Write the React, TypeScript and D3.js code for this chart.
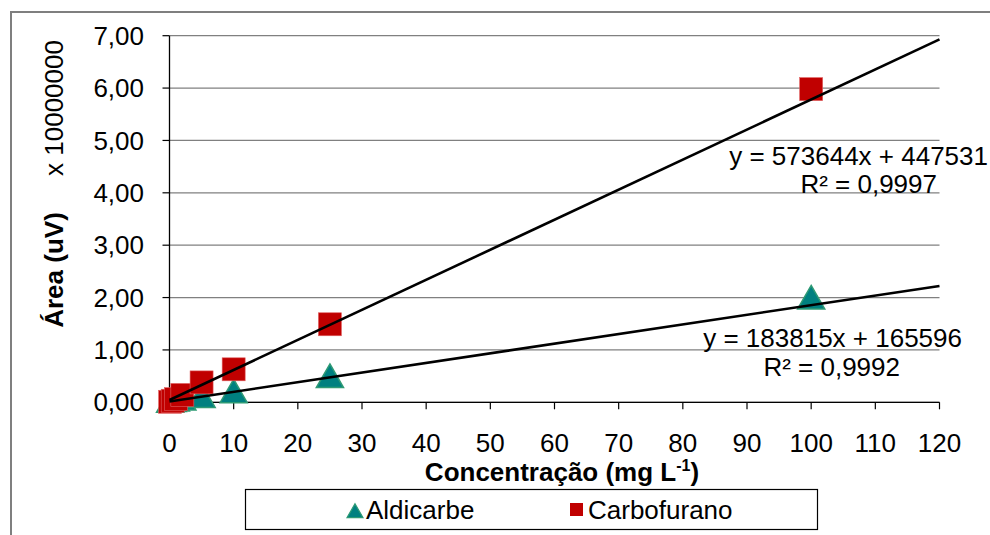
import React from "react";
import * as d3 from "d3";

// Calibration data: concentration (mg L-1) vs peak area (x 10^7 uV)
const concentrations = [0.1, 0.5, 1, 2, 5, 10, 25, 100];
const aldicarbe = [0.0, 0.01, 0.02, 0.04, 0.09, 0.18, 0.47, 1.97];
const carbofurano = [0.01, 0.03, 0.06, 0.14, 0.38, 0.63, 1.49, 5.98];

// Linear fits (area in uV) and their labels
const fitSlopes = [183815, 573644];
const fitIntercepts = [165596, 447531];
const fitEquations = ["y = 183815x + 165596", "y = 573644x + 447531"];
const fitR2 = ["R² = 0,9992", "R² = 0,9997"];

const xTicks = [0, 10, 20, 30, 40, 50, 60, 70, 80, 90, 100, 110, 120];
const yTicks = [0, 1, 2, 3, 4, 5, 6, 7];
const displayUnit = 10000000;

const W = 990;
const H = 535;
const FONT = "'Liberation Sans', Arial, sans-serif";
const FS = 26;

export default function App() {
  const x = d3.scaleLinear().domain([0, 120]).range([169.5, 939.5]);
  const y = d3.scaleLinear().domain([0, 7]).range([402.3, 35.7]);
  const fmt = (v: number) => d3.format(".2f")(v).replace(".", ",");

  const fitLine = (i: number) => {
    const pts: [number, number][] = [0, 120].map((c) => [
      x(c),
      y((fitSlopes[i] * c + fitIntercepts[i]) / displayUnit),
    ]);
    return d3.line()(pts) as string;
  };

  const tri = d3.symbol().type(d3.symbolTriangle).size(320)() as string;
  const sq = 23;

  return (
    <svg
      width={W}
      height={H}
      style={{ position: "absolute", left: 0, top: 0, background: "#fff" }}
      fontFamily={FONT}
    >
      {/* chart frame */}
      <rect x={11} y={12} width={1000} height={560} fill="#fff" stroke="#7f7f7f" strokeWidth={2} />

      {/* gridlines */}
      {yTicks.map((t) => (
        <line key={"g" + t} x1={x(0)} x2={x(120)} y1={y(t)} y2={y(t)} stroke="#808080" strokeWidth={1.2} />
      ))}

      {/* y axis */}
      <line x1={x(0)} x2={x(0)} y1={y(7)} y2={y(0)} stroke="#000" strokeWidth={1.3} />
      {yTicks.map((t) => (
        <g key={"y" + t}>
          <line x1={x(0) - 7} x2={x(0)} y1={y(t)} y2={y(t)} stroke="#000" strokeWidth={1.2} />
          <text x={144} y={y(t)} dy="0.35em" textAnchor="end" fontSize={FS}>
            {fmt(t)}
          </text>
        </g>
      ))}

      {/* x axis */}
      <line x1={x(0)} x2={x(120)} y1={y(0)} y2={y(0)} stroke="#000" strokeWidth={1.2} />
      {xTicks.map((t) => (
        <g key={"x" + t}>
          <line x1={x(t)} x2={x(t)} y1={y(0)} y2={y(0) + 7} stroke="#000" strokeWidth={1.2} />
          <text x={x(t)} y={452} textAnchor="middle" fontSize={FS}>
            {t}
          </text>
        </g>
      ))}

      {/* axis titles */}
      <text x={562} y={481} textAnchor="middle" fontSize={FS} fontWeight="bold">
        Concentração (mg L
        <tspan fontSize={16} dy={-10}>-1</tspan>
        <tspan dy={10}>)</tspan>
      </text>
      <text transform="translate(63,270) rotate(-90)" textAnchor="middle" fontSize={FS} fontWeight="bold">
        Área (uV)
      </text>
      <text transform="translate(63,108) rotate(-90)" textAnchor="middle" fontSize={FS}>
        x {displayUnit}
      </text>

      {/* Aldicarbe markers */}
      {concentrations.map((c, i) => (
        <path
          key={"a" + i}
          d={tri}
          transform={`translate(${x(c)},${y(aldicarbe[i]) + 2})`}
          fill="#008080"
          stroke="#2e9a74"
          strokeWidth={1.5}
        />
      ))}

      {/* Carbofurano markers */}
      {concentrations.map((c, i) => (
        <rect
          key={"c" + i}
          x={x(c) - sq / 2}
          y={y(carbofurano[i]) - sq / 2}
          width={sq}
          height={sq}
          fill="#c00000"
          stroke="#e06060"
          strokeWidth={0.6}
        />
      ))}

      {/* trendlines */}
      {[0, 1].map((i) => (
        <path key={"f" + i} d={fitLine(i)} stroke="#000" strokeWidth={2.6} fill="none" />
      ))}

      {/* fit labels */}
      <text x={988} y={165} textAnchor="end" fontSize={FS}>{fitEquations[1]}</text>
      <text x={937} y={193} textAnchor="end" fontSize={FS}>{fitR2[1]}</text>
      <text x={962} y={347} textAnchor="end" fontSize={FS}>{fitEquations[0]}</text>
      <text x={900} y={376} textAnchor="end" fontSize={FS}>{fitR2[0]}</text>

      {/* legend */}
      <rect x={245.5} y={489.5} width={572} height={40} fill="#fff" stroke="#000" strokeWidth={1.2} />
      <path d={d3.symbol().type(d3.symbolTriangle).size(110)() as string} transform="translate(355,513)" fill="#008080" stroke="#2e9a74" strokeWidth={1.2} />
      <text x={366} y={510} dy="0.35em" fontSize={FS}>Aldicarbe</text>
      <rect x={570} y={503} width={13} height={13} fill="#c00000" />
      <text x={588} y={510} dy="0.35em" fontSize={FS}>Carbofurano</text>
    </svg>
  );
}
